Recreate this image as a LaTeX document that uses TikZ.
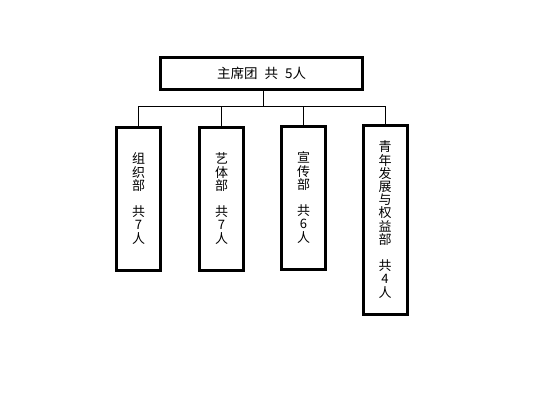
\documentclass[tikz,border=0pt]{standalone}
\usepackage{fontspec}
\setmainfont{Noto Sans CJK SC}
\usepackage{tikz}
\usetikzlibrary{positioning, calc}

\begin{document}
\begin{tikzpicture}[
  x=1pt, y=-1pt,
  topbox/.style={
    rectangle, draw=black, line width=3pt,
    minimum width=202pt, minimum height=32pt,
    inner sep=0pt, font=\fontsize{13.5}{14}\selectfont
  },
  deptbox/.style={
    rectangle, draw=black, line width=3pt, anchor=north,
    minimum width=44pt, inner sep=0pt, align=center,
    font=\fontsize{13}{13.2}\selectfont
  },
  link/.style={draw=black, line width=0.8pt}
]
  \useasboundingbox (0,0) rectangle (540,401);
  \node[topbox] (top) at (261.5,73.5) {\raisebox{-4.5pt}{主席团\hspace{7pt}共\hspace{7pt}5人}};
  \node[deptbox, minimum height=143pt] (zuzhi)   at (138.5,125.5) {组\\织\\部\\ \\共\\7\\人};
  \node[deptbox, minimum height=143pt] (yiti)    at (221.5,125.5) {艺\\体\\部\\ \\共\\7\\人};
  \node[deptbox, minimum height=143pt] (xuanchuan) at (303.5,124.5) {宣\\传\\部\\ \\共\\6\\人};
  \node[deptbox, minimum height=189pt] (qingnian) at (385,123.5) {青\\年\\发\\展\\与\\权\\益\\部\\ \\共\\4\\人};
  \coordinate (bus) at (263,106);
  % tree connectors
  \draw[link] (top.south -| bus) -- (bus);
  \foreach \d in {zuzhi, yiti, xuanchuan, qingnian}
    \draw[link] (bus) -| (\d.north);
\end{tikzpicture}
\end{document}
